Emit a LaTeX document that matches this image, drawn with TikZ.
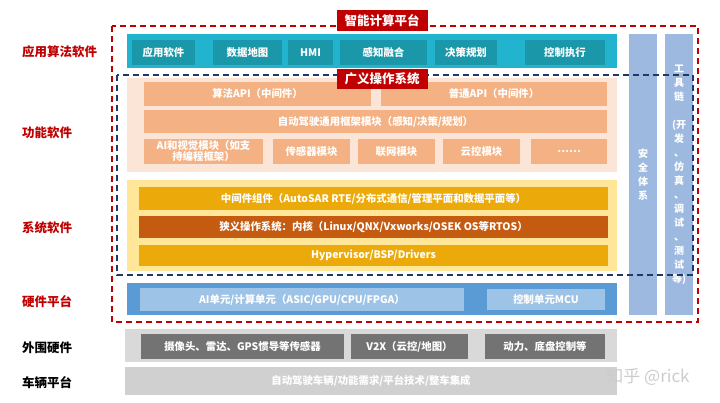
\documentclass[tikz,border=0pt]{standalone}
\usepackage{fontspec}
\setmainfont{Noto Sans CJK SC}
\usepackage{tikz}
\usetikzlibrary{positioning}
\definecolor{hongse}{HTML}{C00000}
\definecolor{shenlan}{HTML}{1F3864}
\definecolor{qinglan}{HTML}{22B4CF}
\definecolor{molv}{HTML}{1A97A9}
\definecolor{qianju}{HTML}{FBE5D6}
\definecolor{juse}{HTML}{F4B183}
\definecolor{qianhuang}{HTML}{FFE699}
\definecolor{jinhuang}{HTML}{EBAA0A}
\definecolor{zongse}{HTML}{C55A11}
\definecolor{lanse}{HTML}{5B9BD5}
\definecolor{qianlan}{HTML}{9DC3E6}
\definecolor{zhulan}{HTML}{9DB9DF}
\definecolor{qianhui}{HTML}{D9D9D9}
\definecolor{shenhui}{HTML}{737373}
\definecolor{chehui}{HTML}{D0D0D0}

\begin{document}
\begin{tikzpicture}[x=1pt,y=-1pt,
    blk/.style={inner sep=0pt, outer sep=0pt, text=white, align=center,
      font=\bfseries\fontsize{10.4}{12}\selectfont},
    lbl/.style={anchor=west, inner sep=0pt, font=\bfseries\fontsize{12.5}{14}\selectfont},
    biaoti/.style={blk, fill=hongse, minimum width=91pt, minimum height=21pt,
      font=\bfseries\fontsize{12.5}{14}\selectfont},
    kuang/.style={line width=1.4pt, dash pattern=on 6pt off 4pt}]
    \useasboundingbox (0,0) rectangle (720,403);
    % left labels
    \node[lbl, text=hongse] (l1) at (22,52) {应用算法软件};
    \node[lbl, text=hongse] (l2) at (22,133) {功能软件};
    \node[lbl, text=hongse] (l3) at (22,228) {系统软件};
    \node[lbl, text=hongse] (l4) at (22,302) {硬件平台};
    \node[lbl, text=black] (l5) at (22,348) {外围硬件};
    \node[lbl, text=black] (l6) at (22,383) {车辆平台};
    % application layer
    \node[blk, fill=qinglan, minimum width=490pt, minimum height=34pt] (app) at (372,51) {};
    \node[blk, fill=molv, minimum width=63pt, minimum height=25pt] (a1) at (163.5,52.5) {应用软件};
    \node[blk, fill=molv, minimum width=69pt, minimum height=25pt] (a2) at (247.5,52.5) {数据地图};
    \node[blk, fill=molv, minimum width=45pt, minimum height=25pt] (a3) at (310.5,52.5) {HMI};
    \node[blk, fill=molv, minimum width=87pt, minimum height=25pt] (a4) at (383.5,52.5) {感知融合};
    \node[blk, fill=molv, minimum width=62pt, minimum height=25pt] (a5) at (466,52.5) {决策规划};
    \node[blk, fill=molv, minimum width=80pt, minimum height=25pt] (a6) at (565,52.5) {控制执行};
    % function software
    \node[blk, fill=qianju, minimum width=490pt, minimum height=94pt] (func) at (372,125) {};
    \node[blk, fill=juse, minimum width=227pt, minimum height=24pt] (f1) at (257.5,94) {算法API（中间件）};
    \node[blk, fill=juse, minimum width=226pt, minimum height=24pt] (f2) at (494,94) {普通API（中间件）};
    \node[blk, fill=juse, minimum width=463pt, minimum height=23pt] (f3) at (375.5,121.5) {自动驾驶通用框架模块（感知/决策/规划）};
    \node[blk, fill=juse, minimum width=119pt, minimum height=25pt,
      font=\bfseries\fontsize{10.4}{11}\selectfont] (f4) at (203.5,151.5) {AI和视觉模块（如支\\持编程框架）};
    \node[blk, fill=juse, minimum width=77pt, minimum height=25pt] (f5) at (311.5,151.5) {传感器模块};
    \node[blk, fill=juse, minimum width=77pt, minimum height=25pt] (f6) at (396.5,151.5) {联网模块};
    \node[blk, fill=juse, minimum width=77pt, minimum height=25pt] (f7) at (481.5,151.5) {云控模块};
    \node[blk, fill=juse, minimum width=76pt, minimum height=25pt] (f8) at (569,151.5) {……};
    % system software
    \node[blk, fill=qianhuang, minimum width=490pt, minimum height=91pt] (sys) at (372,225.5) {};
    \node[blk, fill=jinhuang, minimum width=469pt, minimum height=23pt] (s1) at (373.5,198.5) {中间件组件（AutoSAR RTE/分布式通信/管理平面和数据平面等）};
    \node[blk, fill=zongse, minimum width=469pt, minimum height=22pt] (s2) at (373.5,227) {狭义操作系统：内核（Linux/QNX/Vxworks/OSEK OS等RTOS）};
    \node[blk, fill=jinhuang, minimum width=469pt, minimum height=21pt] (s3) at (373.5,255.5) {Hypervisor/BSP/Drivers};
    % hardware
    \node[blk, fill=lanse, minimum width=490pt, minimum height=32pt] (hw) at (372,299) {};
    \node[blk, fill=qianlan, minimum width=324pt, minimum height=23pt] (h1) at (302,299.5) {AI单元/计算单元（ASIC/GPU/CPU/FPGA）};
    \node[blk, fill=qianlan, minimum width=118pt, minimum height=21pt] (h2) at (546,299.5) {控制单元MCU};
    % side columns
    \node[blk, fill=zhulan, minimum width=28pt, minimum height=281pt,
      font=\bfseries\fontsize{10}{14}\selectfont] (anquan) at (643,174.5) {安\\全\\体\\系};
    \node[blk, fill=zhulan, minimum width=28pt, minimum height=281pt,
      font=\bfseries\fontsize{10}{14}\selectfont] (gongju) at (679,174.5) {工\\具\\链\\[14pt](开\\发\\、\\仿\\真\\、\\调\\试\\、\\测\\试\\等)};
    % peripheral and vehicle
    \node[blk, fill=qianhui, minimum width=492pt, minimum height=33pt] (waiwei) at (371,345.5) {};
    \node[blk, fill=shenhui, minimum width=203pt, minimum height=25pt] (w1) at (242.5,346.5) {摄像头、雷达、GPS惯导等传感器};
    \node[blk, fill=shenhui, minimum width=117pt, minimum height=25pt] (w2) at (409.5,346.5) {V2X（云控/地图）};
    \node[blk, fill=shenhui, minimum width=120pt, minimum height=25pt] (w3) at (545,346.5) {动力、底盘控制等};
    \node[blk, fill=chehui, minimum width=492pt, minimum height=28pt] (cheliang) at (371,381) {自动驾驶车辆/功能需求/平台技术/整车集成};
    % dashed frames
    \draw[kuang, hongse] (112,26) rectangle (698,322);
    \draw[kuang, shenlan] (117,75) rectangle (693,275);
    \node[biaoti] (t1) at (382,21) {智能计算平台};
    \node[biaoti, minimum height=20pt] (t2) at (382,79) {广义操作系统};
    % watermark
    \node[inner sep=0pt, text=black!20, font=\fontsize{17}{18}\selectfont] (zhihu) at (648,377) {知乎 @rick};
\end{tikzpicture}
\end{document}
